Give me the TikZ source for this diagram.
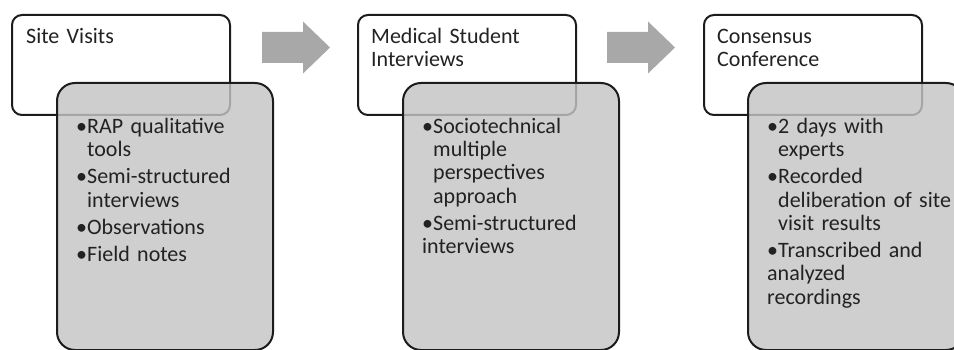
\documentclass[tikz,border=0pt]{standalone}
\usepackage{fontspec}
\setmainfont{Carlito}
\definecolor{boxgrey}{RGB}{196,196,196}
\definecolor{arrowgrey}{RGB}{168,168,168}
\definecolor{edgegrey}{RGB}{28,28,28}
\definecolor{inkgrey}{RGB}{34,34,34}
\newcommand{\bitem}[1]{\par\hangindent=11pt\hangafter=1\noindent\strut\makebox[11pt][l]{\textbullet}#1}
\tikzset{
  stagebox/.style={draw=edgegrey, line width=2pt, rounded corners=10pt, fill=white,
    minimum width=218pt, minimum height=100pt, anchor=north west},
  detailbox/.style={draw=edgegrey, line width=2pt, rounded corners=18pt, fill=boxgrey,
    fill opacity=0.82, draw opacity=1, minimum width=216pt, minimum height=267pt, anchor=north west},
  stagetitle/.style={inner sep=0, anchor=north west, align=left, text width=200pt,
    font=\fontsize{22}{23.3}\selectfont, text=inkgrey},
  detailtext/.style={inner sep=0, anchor=north west, align=left, text width=190pt,
    font=\fontsize{22}{23.3}\selectfont\setlength{\parskip}{4pt}, text=inkgrey},
  flowarrow/.style={fill=arrowgrey, draw=none}
}
\begin{document}
\begin{tikzpicture}[x=1pt,y=-1pt]
  \useasboundingbox (0,0) rectangle (954,350);
  \clip (0,0) rectangle (954,350);
  % stage boxes
  \node[stagebox] (w1) at (11,14) {};
  \node[stagebox] (w2) at (357,14) {};
  \node[stagebox] (w3) at (703,14) {};
  \node[stagetitle] (t1) at (26,26.7) {\strut Site Visits};
  \node[stagetitle] (t2) at (371,26.7) {\strut Medical Student\\Interviews};
  \node[stagetitle] (t3) at (717,26.7) {\strut Consensus\\Conference};
  % detail boxes
  \node[detailbox] (g1) at (56,82) {};
  \node[detailbox] (g2) at (402,82) {};
  \node[detailbox] (g3) at (747,82) {};
  \node[detailtext] (d1) at (76,105.7) {%
    \bitem{RAP qualitative\newline tools}
    \bitem{Semi-structured\newline interviews}
    \bitem{Observations}
    \bitem{Field notes}};
  \node[detailtext] (d2) at (422,105.7) {%
    \bitem{Sociotechnical\newline multiple\newline perspectives\newline approach}
    \bitem{Semi-structured\newline interviews}};
  \node[detailtext] (d3) at (767,105.7) {%
    \bitem{2 days with\newline experts}
    \bitem{Recorded\newline deliberation of site\newline visit results}
    \bitem{Transcribed and\newline analyzed\newline recordings}};
  % arrows
  \coordinate (a1) at (262,47.5);
  \coordinate (a2) at (607,47.5);
  \foreach \a in {a1,a2}
    \fill[flowarrow] (\a) ++(0,-15.5) -- ++(41,0) -- ++(0,-10.5) -- ++(27,26)
      -- ++(-27,26) -- ++(0,-10.5) -- ++(-41,0) -- cycle;
\end{tikzpicture}
\end{document}
